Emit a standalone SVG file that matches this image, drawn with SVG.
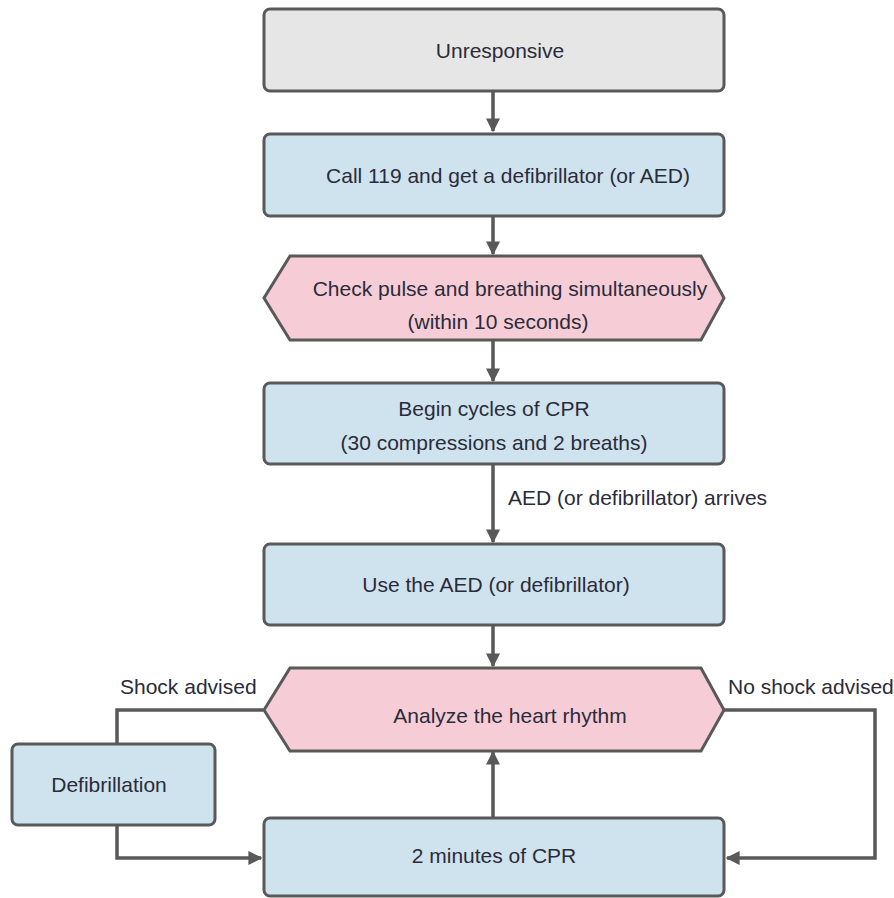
<svg xmlns="http://www.w3.org/2000/svg" width="894" height="898" viewBox="0 0 894 898">
<defs>
<marker id="ah" viewBox="0 0 10 10" refX="9" refY="5" markerWidth="4" markerHeight="4" orient="auto" markerUnits="strokeWidth">
<path d="M0,0 L10,5 L0,10 z" fill="#595959"/>
</marker>
<style>
.box{stroke:#595959;stroke-width:3}
.grey{fill:#e6e6e6}
.blue{fill:#cfe3ee}
.pink{fill:#f6cdd7}
text{font-family:"Liberation Sans",Arial,sans-serif;font-size:21px;fill:#2b2b3a;text-anchor:middle}
.lbl{text-anchor:start}
.conn{fill:none;stroke:#595959;stroke-width:3.5}
</style>
</defs>
<rect width="894" height="898" fill="#ffffff"/>
<g id="connectors">
<line class="conn" x1="493" y1="91" x2="493" y2="131" marker-end="url(#ah)"/>
<line class="conn" x1="493" y1="216" x2="493" y2="254" marker-end="url(#ah)"/>
<line class="conn" x1="493" y1="340" x2="493" y2="381" marker-end="url(#ah)"/>
<line class="conn" x1="493" y1="464" x2="493" y2="542" marker-end="url(#ah)"/>
<line class="conn" x1="493" y1="626" x2="493" y2="666" marker-end="url(#ah)"/>
<line class="conn" x1="493" y1="817" x2="493" y2="752" marker-end="url(#ah)"/>
<polyline class="conn" points="263,710 117,710 117,744"/>
<polyline class="conn" points="117,825 117,858 261,858" marker-end="url(#ah)"/>
<polyline class="conn" points="724,710 875,710 875,858 727,858" marker-end="url(#ah)"/>
<text class="lbl" x="508" y="505">AED (or defibrillator) arrives</text>
<text class="lbl" x="120" y="694">Shock advised</text>
<text class="lbl" x="728" y="694">No shock advised</text>
</g>
<g id="n1">
<rect class="box grey" x="264" y="9" width="460" height="82" rx="6"/>
<text x="500" y="58">Unresponsive</text>
</g>
<g id="n2">
<rect class="box blue" x="264" y="134" width="460" height="82" rx="6"/>
<text x="508" y="183">Call 119 and get a defibrillator (or AED)</text>
</g>
<g id="n3">
<polygon class="box pink" points="290,256 701,256 724,298 701,340 290,340 264,298"/>
<text x="510" y="296">Check pulse and breathing simultaneously</text>
<text x="498" y="329">(within 10 seconds)</text>
</g>
<g id="n4">
<rect class="box blue" x="264" y="383" width="460" height="81" rx="6"/>
<text x="494" y="416">Begin cycles of CPR</text>
<text x="494" y="450">(30 compressions and 2 breaths)</text>
</g>
<g id="n5">
<rect class="box blue" x="264" y="544" width="460" height="81" rx="6"/>
<text x="496" y="592">Use the AED (or defibrillator)</text>
</g>
<g id="n6">
<polygon class="box pink" points="290,668 701,668 724,710 701,751 290,751 264,710"/>
<text x="510" y="723">Analyze the heart rhythm</text>
</g>
<g id="n7">
<rect class="box blue" x="12" y="744" width="203" height="81" rx="6"/>
<text x="109" y="792">Defibrillation</text>
</g>
<g id="n8">
<rect class="box blue" x="264" y="818" width="460" height="78" rx="6"/>
<text x="494" y="863">2 minutes of CPR</text>
</g>
</svg>
